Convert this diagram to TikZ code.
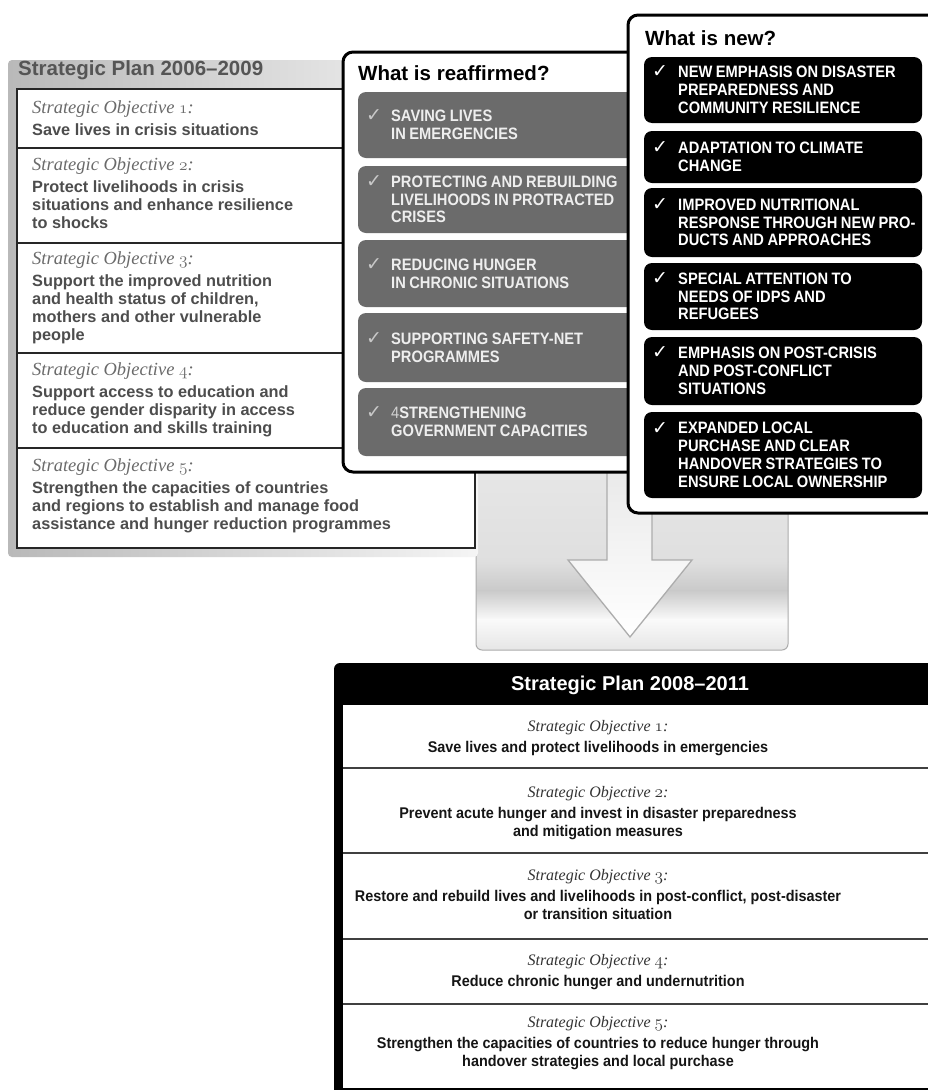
\documentclass[tikz,border=0pt]{standalone}
\usepackage{fontspec}
\newfontfamily\hsans{Liberation Sans}
\newfontfamily\serifit{Liberation Serif}
\newfontfamily\capsf{Liberation Sans}[FakeStretch=0.89,WordSpace=0.85]
\newfontfamily\capsb{Liberation Sans}[FakeStretch=0.93]
\newfontfamily\dejavu{DejaVu Sans}
\newcommand{\osn}[1]{{\usefont{OML}{cmm}{m}{it}#1}}
\definecolor{tltxt}{HTML}{4D4D4D}
\definecolor{tlital}{HTML}{6A6A6A}
\definecolor{tltitle}{HTML}{555555}
\definecolor{midgrey}{HTML}{6B6B6B}
\definecolor{midtxt}{HTML}{EEEEEE}
\definecolor{midcheck}{HTML}{C8C8C8}
\definecolor{btital}{HTML}{333333}
\definecolor{bttxt}{HTML}{151515}
\newcommand{\tlobj}[2]{\parbox[t]{440pt}{\raggedright\serifit\itshape\fontsize{18.5}{18}\selectfont\leavevmode\color{tlital}Strategic Objective \osn{#1}:\\[4pt]\hsans\upshape\bfseries\fontsize{16.3}{18}\selectfont\color{tltxt}#2}}
\newcommand{\btobj}[2]{\parbox[t]{590pt}{\centering\serifit\itshape\fontsize{16}{18.7}\selectfont\leavevmode\color{btital}Strategic Objective \osn{#1}:\\[2.5pt]\capsb\upshape\bfseries\fontsize{15.5}{18.7}\selectfont\color{bttxt}#2}}
\tikzset{
  objnode/.style={inner sep=0pt},
  capstext/.style={anchor=west, inner sep=0pt, align=left, font=\capsf\bfseries\fontsize{16.5}{17.8}\selectfont},
  midtext/.style={capstext, text=midtxt},
  newtext/.style={capstext, text=white},
  chk/.style={anchor=base west, inner sep=0pt, font=\dejavu\fontsize{19}{19}\selectfont},
  paneltitle/.style={anchor=base west, inner sep=0pt, font=\hsans\bfseries\fontsize{20.5}{24}\selectfont},
  midbox/.style={fill=midgrey, rounded corners=8pt},
  newbox/.style={fill=black, rounded corners=8pt},
  panel/.style={draw=black, line width=3pt, fill=white, rounded corners=10pt},
  tlsep/.style={line width=1.3pt, draw=black!85},
  btsep/.style={line width=1.8pt, draw=black!75},
}
\begin{document}
\begin{tikzpicture}[x=1pt,y=-1pt]
\useasboundingbox (0,0) rectangle (928,1090);
\clip (0,0) rectangle (928,1090);
\fill[white] (0,0) rectangle (928,1090);

% ---------- arrow box ----------
\begin{scope}
\clip[rounded corners=6pt] (476,440) rectangle (788,650);
\shade[top color=gray!17, bottom color=gray!25] (470,430) rectangle (800,562);
\shade[top color=gray!25, bottom color=gray!42] (470,561) rectangle (800,591);
\shade[top color=gray!42, bottom color=gray!4] (470,590) rectangle (800,620);
\shade[top color=gray!4, bottom color=gray!25] (470,619) rectangle (800,660);
\end{scope}
\draw[gray!65, line width=1pt, rounded corners=6pt] (476,440) rectangle (788,650);
\draw[gray!65, line width=1.3pt, top color=gray!20, bottom color=white]
  (607,440) -- (607,560) -- (568,560) -- (630,637) -- (692,560) -- (652,560) -- (652,440);

% ---------- Strategic Plan 2006-2009 ----------
\shade[left color=gray!55, right color=gray!8, rounded corners=4pt] (8,60) rectangle (478,557);
\draw[draw=black!85, fill=white, line width=1.4pt] (17,89) rectangle (475,548);
\draw[tlsep] (17,148) -- (475,148);
\draw[tlsep] (17,243) -- (475,243);
\draw[tlsep] (17,353) -- (475,353);
\draw[tlsep] (17,448) -- (475,448);
\node[paneltitle, text=tltitle] (tltitle) at (18,75) {Strategic Plan 2006–2009};
\node[objnode, anchor=base west] (tlo1) at (32,113) {\tlobj{1}{Save lives in crisis situations}};
\node[objnode, anchor=base west] (tlo2) at (32,170) {\tlobj{2}{Protect livelihoods in crisis\\situations and enhance resilience\\to shocks}};
\node[objnode, anchor=base west] (tlo3) at (32,264) {\tlobj{3}{Support the improved nutrition\\and health status of children,\\mothers and other vulnerable\\people}};
\node[objnode, anchor=base west] (tlo4) at (32,375) {\tlobj{4}{Support access to education and\\reduce gender disparity in access\\to education and skills training}};
\node[objnode, anchor=base west] (tlo5) at (32,471) {\tlobj{5}{Strengthen the capacities of countries\\and regions to establish and manage food\\assistance and hunger reduction programmes}};

% ---------- What is reaffirmed? ----------
\draw[panel] (343,52) rectangle (720,472);
\node[paneltitle, text=black] (mtitle) at (358,80) {What is reaffirmed?};
\fill[midbox] (358,92) rectangle (700,158);
\fill[midbox] (358,166) rectangle (700,233);
\fill[midbox] (358,240) rectangle (700,307);
\fill[midbox] (358,313) rectangle (700,382);
\fill[midbox] (358,388) rectangle (700,456);
\node[midtext] (mt1) at (391,125) {SAVING LIVES\\IN EMERGENCIES};
\node[midtext] (mt2) at (391,199.5) {PROTECTING AND REBUILDING\\LIVELIHOODS IN PROTRACTED\\CRISES};
\node[midtext] (mt3) at (391,273.5) {REDUCING HUNGER\\IN CHRONIC SITUATIONS};
\node[midtext] (mt4) at (391,347.5) {SUPPORTING SAFETY-NET\\PROGRAMMES};
\node[midtext] (mt5) at (391,422) {{\mdseries\color{gray!35}4}STRENGTHENING\\GOVERNMENT CAPACITIES};
\foreach \i in {1,...,5}{
  \node[chk, text=midcheck] (mc\i) at ([xshift=-25pt,yshift=-11.8pt]mt\i.north west) {✓};
}

% ---------- What is new? ----------
\draw[panel] (628,15) rectangle (960,513);
\node[paneltitle, text=black] (ntitle) at (645,45) {What is new?};
\fill[newbox] (644,57) rectangle (922,123);
\fill[newbox] (644,131) rectangle (922,183);
\fill[newbox] (644,188) rectangle (922,257);
\fill[newbox] (644,263) rectangle (922,330);
\fill[newbox] (644,337) rectangle (922,405);
\fill[newbox] (644,412) rectangle (922,498);
\node[newtext] (nt1) at (678,90) {NEW EMPHASIS ON DISASTER\\PREPAREDNESS AND\\COMMUNITY RESILIENCE};
\node[newtext] (nt2) at (678,157) {ADAPTATION TO CLIMATE\\CHANGE};
\node[newtext] (nt3) at (678,222.5) {IMPROVED NUTRITIONAL\\RESPONSE THROUGH NEW PRO-\\DUCTS AND APPROACHES};
\node[newtext] (nt4) at (678,296.5) {SPECIAL ATTENTION TO\\NEEDS OF IDPS AND\\REFUGEES};
\node[newtext] (nt5) at (678,371) {EMPHASIS ON POST-CRISIS\\AND POST-CONFLICT\\SITUATIONS};
\node[newtext] (nt6) at (678,455) {EXPANDED LOCAL\\PURCHASE AND CLEAR\\HANDOVER STRATEGIES TO\\ENSURE LOCAL OWNERSHIP};
\foreach \i in {1,...,6}{
  \node[chk, text=white] (nc\i) at ([xshift=-26pt,yshift=-11.8pt]nt\i.north west) {✓};
}

% ---------- Strategic Plan 2008-2011 ----------
\fill[black, rounded corners=6pt] (334,663) rectangle (960,1110);
\fill[white] (343,705) rectangle (960,1088);
\draw[btsep] (343,768) -- (960,768);
\draw[btsep] (343,853) -- (960,853);
\draw[btsep] (343,939) -- (960,939);
\draw[btsep] (343,1004) -- (960,1004);
\node[inner sep=0pt, anchor=base, text=white, font=\hsans\bfseries\fontsize{20}{24}\selectfont] (bttitle) at (630,690) {Strategic Plan 2008–2011};
\node[objnode, anchor=base] (bo1) at (598,731) {\btobj{1}{Save lives and protect livelihoods in emergencies}};
\node[objnode, anchor=base] (bo2) at (598,797) {\btobj{2}{Prevent acute hunger and invest in disaster preparedness\\and mitigation measures}};
\node[objnode, anchor=base] (bo3) at (598,880) {\btobj{3}{Restore and rebuild lives and livelihoods in post-conflict, post-disaster\\or transition situation}};
\node[objnode, anchor=base] (bo4) at (598,965) {\btobj{4}{Reduce chronic hunger and undernutrition}};
\node[objnode, anchor=base] (bo5) at (598,1027) {\btobj{5}{Strengthen the capacities of countries to reduce hunger through\\handover strategies and local purchase}};
\end{tikzpicture}
\end{document}
